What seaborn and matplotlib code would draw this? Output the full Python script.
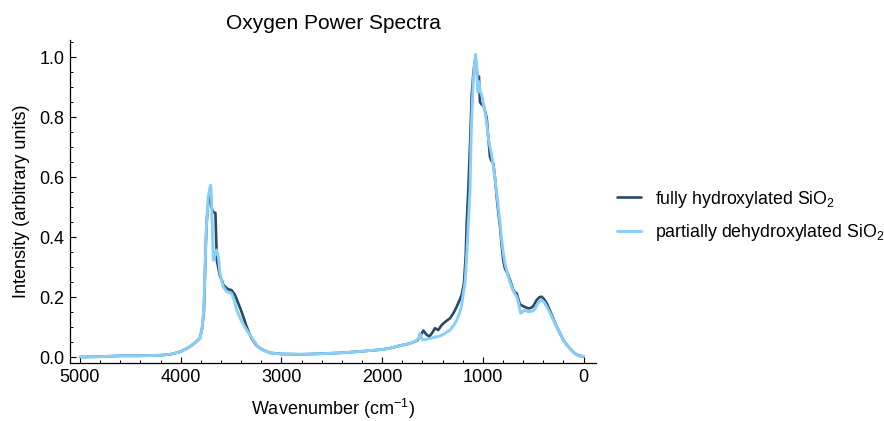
import numpy as np
import pandas as pd
import seaborn as sns
import matplotlib
matplotlib.use("Agg")
import matplotlib.pyplot as plt
from matplotlib.ticker import MultipleLocator
from matplotlib.lines import Line2D

# ---------------- data ----------------
wn_full = [5000, 4800, 4600, 4400, 4200, 4100, 4000, 3910, 3850, 3810, 3790, 3770,
           3760, 3750, 3740, 3725, 3710, 3695, 3680, 3655, 3648, 3640, 3610, 3590,
           3577, 3543, 3520, 3494, 3461, 3428, 3400, 3378, 3345, 3320, 3295, 3250,
           3212, 3160, 3113, 3000, 2800, 2600, 2400, 2200, 2000, 1900, 1823, 1723,
           1650, 1617, 1590, 1560, 1531, 1500, 1475, 1442, 1408, 1370, 1326, 1290,
           1259, 1230, 1210, 1187, 1170, 1160, 1144, 1137, 1127, 1110, 1095, 1080,
           1070, 1055, 1045, 1038, 1028, 1010, 995, 978, 961, 945, 929, 915, 896,
           880, 862, 845, 829, 812, 796, 780, 763, 745, 730, 697, 680, 663, 645,
           630, 591, 548, 520, 498, 465, 440, 415, 390, 365, 340, 316, 290, 266,
           233, 201, 170, 134, 100, 68, 40, 0]
int_full = [0.000, 0.001, 0.004, 0.004, 0.006, 0.009, 0.018, 0.034, 0.050, 0.062, 0.090, 0.150,
            0.260, 0.380, 0.460, 0.520, 0.545, 0.500, 0.484, 0.480, 0.400, 0.320, 0.270, 0.255,
            0.240, 0.229, 0.225, 0.223, 0.207, 0.179, 0.155, 0.134, 0.101, 0.080, 0.062, 0.040,
            0.029, 0.020, 0.014, 0.010, 0.009, 0.011, 0.014, 0.019, 0.025, 0.031, 0.038, 0.045,
            0.055, 0.073, 0.088, 0.075, 0.068, 0.082, 0.096, 0.090, 0.107, 0.118, 0.129, 0.147,
            0.168, 0.190, 0.207, 0.246, 0.334, 0.446, 0.557, 0.620, 0.707, 0.873, 0.940, 0.985,
            0.990, 0.940, 0.930, 0.935, 0.850, 0.842, 0.840, 0.820, 0.796, 0.730, 0.668, 0.655, 0.645,
            0.600, 0.534, 0.480, 0.434, 0.370, 0.320, 0.295, 0.284, 0.270, 0.257, 0.223, 0.215, 0.212, 0.190,
            0.175, 0.168, 0.162, 0.164, 0.170, 0.190, 0.199, 0.201, 0.192, 0.179, 0.160, 0.140, 0.120, 0.101,
            0.079, 0.057, 0.042, 0.028, 0.016, 0.008, 0.004, 0.002]

wn_partial = [5000, 4800, 4600, 4400, 4200, 4100, 4000, 3910, 3850, 3808, 3790, 3770,
              3760, 3745, 3726, 3710, 3702, 3695, 3685, 3676, 3660, 3643, 3626, 3610,
              3590, 3577, 3543, 3494, 3470, 3444, 3394, 3345, 3279, 3240, 3200, 3150,
              3100, 3000, 2800, 2600, 2400, 2200, 2000, 1900, 1823, 1723, 1660, 1640,
              1624, 1610, 1597, 1560, 1524, 1475, 1425, 1380, 1326, 1290, 1259, 1230,
              1210, 1190, 1177, 1160, 1144, 1127, 1118, 1110, 1095, 1080, 1071, 1061,
              1051, 1038, 1025, 1011, 995, 978, 960, 945, 928, 912, 895, 879, 862,
              852, 830, 812, 796, 780, 763, 747, 730, 713, 690, 663, 645, 624, 600,
              581, 565, 548, 520, 498, 480, 465, 440, 415, 390, 365, 340, 316, 290,
              266, 233, 201, 170, 134, 100, 68, 40, 0]
int_partial = [0.000, 0.001, 0.004, 0.004, 0.006, 0.009, 0.018, 0.034, 0.050, 0.062, 0.090, 0.160,
               0.280, 0.430, 0.534, 0.565, 0.573, 0.540, 0.420, 0.323, 0.340, 0.357, 0.334, 0.280,
               0.250, 0.234, 0.218, 0.212, 0.190, 0.157, 0.118, 0.090, 0.057, 0.038, 0.026, 0.018,
               0.013, 0.010, 0.009, 0.011, 0.014, 0.019, 0.025, 0.031, 0.038, 0.045, 0.055, 0.062,
               0.079, 0.065, 0.057, 0.059, 0.062, 0.066, 0.070, 0.078, 0.090, 0.105, 0.123, 0.148,
               0.173, 0.220, 0.246, 0.334, 0.446, 0.557, 0.707, 0.800, 0.920, 0.985, 1.009, 0.973,
               0.884, 0.918, 0.885, 0.873, 0.845, 0.818, 0.775, 0.729, 0.700, 0.673, 0.635, 0.596, 0.545,
               0.518, 0.450, 0.390, 0.345, 0.312, 0.290, 0.268, 0.250, 0.234, 0.215, 0.201, 0.180, 0.146, 0.152,
               0.157, 0.153, 0.151, 0.152, 0.154, 0.162, 0.173, 0.185, 0.190, 0.182, 0.168, 0.152, 0.135, 0.117,
               0.099, 0.078, 0.056, 0.041, 0.027, 0.016, 0.008, 0.004, 0.002]

series_names = ["fully hydroxylated SiO$_2$", "partially dehydroxylated SiO$_2$"]
series_colors = ["#284a62", "#87cefa"]

x_ticks = [5000, 4000, 3000, 2000, 1000, 0]
y_ticks = [0.0, 0.2, 0.4, 0.6, 0.8, 1.0]

# ---------------- style ----------------
sns.set_style("ticks")
plt.rcParams["font.family"] = ["Liberation Sans", "DejaVu Sans"]
plt.rcParams["mathtext.fontset"] = "custom"
plt.rcParams["mathtext.rm"] = "Liberation Sans"
plt.rcParams["mathtext.it"] = "Liberation Sans"
plt.rcParams["mathtext.sf"] = "Liberation Sans"
plt.rcParams["mathtext.default"] = "regular"
plt.rcParams["text.color"] = "black"
plt.rcParams["axes.labelcolor"] = "black"
plt.rcParams["xtick.color"] = "black"
plt.rcParams["ytick.color"] = "black"

df_full = pd.DataFrame({"wn": wn_full, "intensity": int_full})
df_part = pd.DataFrame({"wn": wn_partial, "intensity": int_partial})

fig = plt.figure(figsize=(8.84, 4.21), dpi=100)
ax = fig.add_axes([70 / 884, 1 - 363 / 421, (596 - 70) / 884, (363 - 40) / 421])

sns.lineplot(data=df_full, x="wn", y="intensity", ax=ax, color=series_colors[0],
             linewidth=1.9, estimator=None, sort=False)
sns.lineplot(data=df_part, x="wn", y="intensity", ax=ax, color=series_colors[1],
             linewidth=2.1, estimator=None, sort=False)

ax.set_xlim(5099, -124)
ax.set_ylim(-0.02, 1.057)
ax.set_xticks(x_ticks)
ax.set_xticklabels([str(v) for v in x_ticks])
ax.set_yticks(y_ticks)
ax.set_yticklabels([f"{v:.1f}" for v in y_ticks])
ax.xaxis.set_minor_locator(MultipleLocator(200))
ax.yaxis.set_minor_locator(MultipleLocator(0.05))
ax.tick_params(axis="both", which="major", direction="in", length=4.0, width=0.8,
               labelsize=13, colors="black", pad=4)
ax.tick_params(axis="both", which="minor", direction="in", length=2.4, width=0.7)
for side in ["top", "right"]:
    ax.spines[side].set_visible(False)
for side in ["left", "bottom"]:
    ax.spines[side].set_linewidth(0.9)
    ax.spines[side].set_color("black")

ax.set_xlabel("Wavenumber (cm$^{\\mathsf{-1}}$)", fontsize=13, labelpad=8, color="black")
ax.set_ylabel("Intensity (arbitrary units)", fontsize=13, labelpad=7, color="black")
ax.set_title("Oxygen Power Spectra", fontsize=15, pad=8, color="black")

handles = [Line2D([0], [0], color=series_colors[0], linewidth=1.9),
           Line2D([0], [0], color=series_colors[1], linewidth=2.1)]
leg = fig.legend(handles, series_names, loc="center left",
                 bbox_to_anchor=(617 / 884, 1 - 216 / 421), frameon=False,
                 fontsize=12.8, handlelength=1.35, handletextpad=0.8,
                 labelspacing=0.72, borderpad=0, borderaxespad=0)
for t in leg.get_texts():
    t.set_color("black")

fig.savefig("out.png", dpi=100)
